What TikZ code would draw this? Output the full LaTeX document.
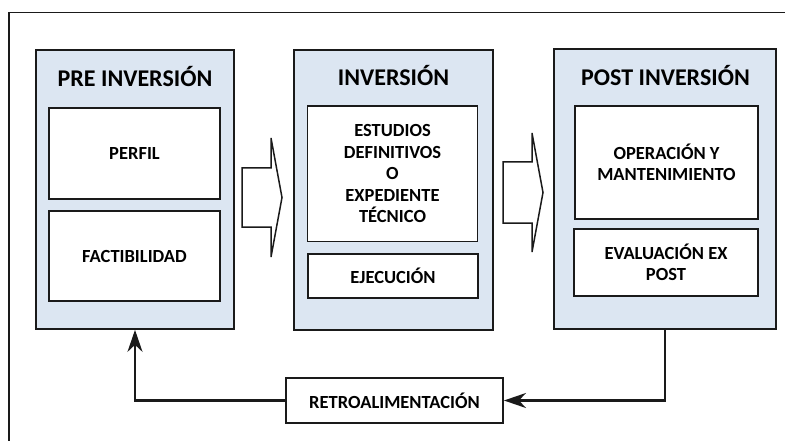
\documentclass[tikz,border=0pt]{standalone}
\usepackage{fontspec}
\setmainfont{Carlito}
\usetikzlibrary{arrows.meta}
\definecolor{phasefill}{HTML}{DCE6F2}
\definecolor{edgecol}{HTML}{1A1A1A}
\begin{document}
\begin{tikzpicture}[x=1pt,y=-1pt,
  phase/.style={draw=edgecol,line width=1.7pt,fill=phasefill,inner sep=0pt},
  sub/.style={draw=edgecol,line width=1.9pt,fill=white,align=center,inner sep=0pt,
     font=\fontsize{18.5}{21.5}\selectfont\bfseries},
  ttl/.style={font=\fontsize{24}{28}\selectfont\bfseries,inner sep=0pt},
  blockarrow/.style={draw=edgecol,line width=1.5pt,fill=white,line join=miter},
  conn/.style={draw=edgecol,line width=2.2pt},
  tipend/.style={-{Stealth[length=22pt,width=15pt,inset=7pt]}}]
\useasboundingbox (0,0) rectangle (785,441);
\fill[white] (0,0) rectangle (785,441);
% frame
\draw[draw=edgecol,line width=1.5pt] (9,441) -- (9,12.5) -- (785,12.5);
% phases
\node[phase,minimum width=198pt,minimum height=279pt] (pre) at (135,189.5) {};
\node[phase,minimum width=199pt,minimum height=280pt] (inv) at (393.5,190) {};
\node[phase,minimum width=222pt,minimum height=280pt] (post) at (665,189) {};
% titles
\node[ttl] (tpre) at (135,77) {PRE INVERSIÓN};
\node[ttl] (tinv) at (393.5,76) {INVERSIÓN};
\node[ttl] (tpost) at (665.5,76) {POST INVERSIÓN};
% sub boxes
\node[sub,minimum width=171pt,minimum height=91pt] (perfil) at (134.5,153.5) {PERFIL};
\node[sub,minimum width=171pt,minimum height=90pt] (fact) at (134.5,256) {FACTIBILIDAD};
\node[sub,minimum width=170pt,minimum height=135.5pt] (est) at (392.5,173.75) {ESTUDIOS\\DEFINITIVOS\\O\\EXPEDIENTE\\TÉCNICO};
\node[sub,minimum width=170pt,minimum height=44pt] (ejec) at (393,276) {EJECUCIÓN};
\node[sub,minimum width=183pt,minimum height=113pt] (oper) at (666.5,162.5) {OPERACIÓN Y\\MANTENIMIENTO};
\node[sub,minimum width=184pt,minimum height=67pt] (eval) at (666,262.5) {EVALUACIÓN EX\\POST};
\node[sub,minimum width=217pt,minimum height=45pt] (retro) at (394.5,400.5) {RETROALIMENTACIÓN};
% block arrows
\draw[blockarrow] (242,168) -- (271,168) -- (271,138) -- (282,197.5) -- (271,257) -- (271,227) -- (242,227) -- cycle;
\draw[blockarrow] (503,162) -- (532,162) -- (532,133) -- (543,192.5) -- (532,252) -- (532,223) -- (503,223) -- cycle;
% feedback connectors
\coordinate (lc) at (pre.south |- retro.west);
\coordinate (rc) at (post.south |- retro.east);
\draw[conn,tipend] (retro.west) -- (lc) -- (pre.south);
\draw[conn,tipend] (post.south) -- (rc) -- (retro.east);
\end{tikzpicture}
\end{document}
